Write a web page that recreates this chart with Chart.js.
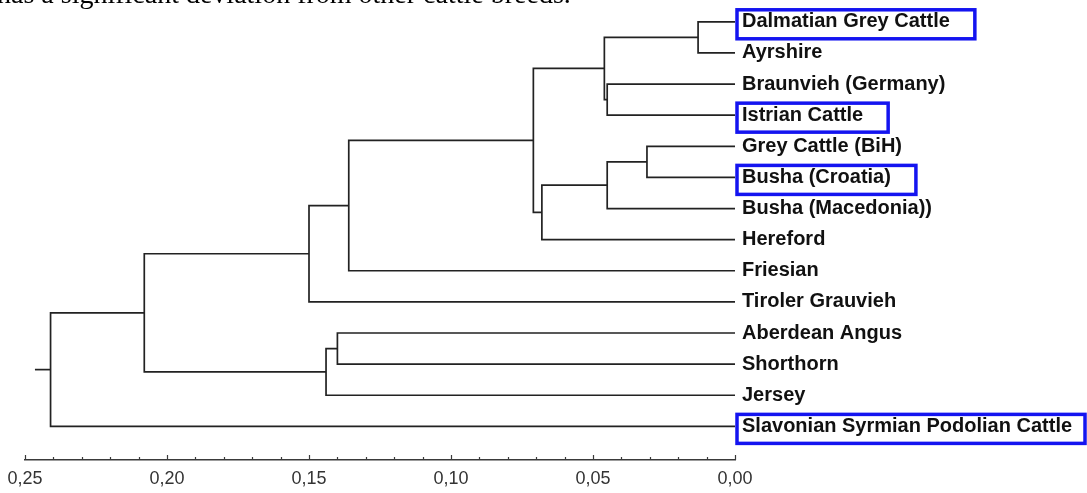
<!DOCTYPE html>
<html lang="en">
<head>
<meta charset="UTF-8">
<title>Cattle breeds dendrogram</title>
<script src="https://cdn.jsdelivr.net/npm/chart.js"></script>
<style>
    html, body { margin: 0; padding: 0; background: #fff; overflow: hidden; }
    .wrap { position: relative; width: 1087px; height: 493px; }
    .caption {
        position: absolute; left: -3px; top: -20px;
        font: 28px/28px "Liberation Serif", "Times New Roman", serif;
        color: #000; white-space: nowrap;
    }
    canvas { display: block; }
</style>
</head>
<body>
<div class="wrap">
    <canvas id="tree" width="1087" height="493"></canvas>
    <div class="caption">has a significant deviation from other cattle breeds.</div>
</div>

<script>
// leaves, top to bottom
const breeds = [
    'Dalmatian Grey Cattle', 'Ayrshire', 'Braunvieh (Germany)', 'Istrian Cattle',
    'Grey Cattle (BiH)', 'Busha (Croatia)', 'Busha (Macedonia))', 'Hereford',
    'Friesian', 'Tiroler Grauvieh', 'Aberdean Angus', 'Shorthorn', 'Jersey',
    'Slavonian Syrmian Podolian Cattle'
];
const boxed = ['Dalmatian Grey Cattle', 'Istrian Cattle', 'Busha (Croatia)', 'Slavonian Syrmian Podolian Cattle'];

// joins in order; ids 0..13 are leaves, 14.. are the clusters made by each join
const mergeA = [0, 2, 14, 4, 17, 18, 16, 20, 21, 10, 23, 22, 25];
const mergeB = [1, 3, 15, 5, 6, 7, 19, 8, 9, 11, 12, 24, 13];
const mergeHeight = [0.013, 0.045, 0.046, 0.031, 0.045, 0.068, 0.071, 0.136, 0.150, 0.140, 0.144, 0.208, 0.241];

const xTicks = [0.25, 0.20, 0.15, 0.10, 0.05, 0.00];

// node positions: y = leaf slot (clusters sit between children), x = distance
let nodeY = breeds.map((b, i) => i);
let nodeH = breeds.map(() => 0);
mergeA.forEach((a, k) => {
    let b = mergeB[k];
    nodeY.push((nodeY[a] + nodeY[b]) / 2);
    nodeH.push(mergeHeight[k]);
});

let lineStyle = { showLine: true, borderColor: '#222', borderWidth: 1.7, pointRadius: 0, tension: 0 };
let datasets = mergeA.map((a, k) => {
    let b = mergeB[k], h = mergeHeight[k];
    return Object.assign({
        data: [
            { x: nodeH[a], y: nodeY[a] }, { x: h, y: nodeY[a] },
            { x: h, y: nodeY[b] }, { x: nodeH[b], y: nodeY[b] }
        ]
    }, lineStyle);
});
// little stub on the root
let root = nodeY.length - 1;
datasets.push(Object.assign({
    data: [{ x: nodeH[root], y: nodeY[root] }, { x: nodeH[root] + 0.0055, y: nodeY[root] }]
}, lineStyle));

const labelFont = { family: '"Liberation Sans", Arial, sans-serif', size: 20, weight: 'bold' };

// small upward ticks on the distance axis + blue boxes round some names
const extras = {
    id: 'extras',
    afterDraw(chart) {
        let ctx = chart.ctx, xs = chart.scales.x, ys = chart.scales.y;
        let base = chart.chartArea.bottom;
        ctx.save();
        ctx.strokeStyle = '#3a3a3a';
        ctx.lineWidth = 1.2;
        for (let i = 0; i <= 25; i++) {
            let px = Math.round(xs.getPixelForValue(i / 100)) + 0.5;
            let len = i % 5 === 0 ? 5 : 3;
            ctx.beginPath();
            ctx.moveTo(px, base);
            ctx.lineTo(px, base - len);
            ctx.stroke();
        }

        ctx.font = 'bold 20px "Liberation Sans", Arial, sans-serif';
        ctx.strokeStyle = '#1414f0';
        ctx.lineWidth = 3.5;
        breeds.forEach((name, i) => {
            if (!boxed.includes(name)) return;
            let tx = ys.left + ys.options.ticks.padding;
            let w = ctx.measureText(name).width;
            let cy = ys.getPixelForValue(i);
            let left = tx - 5;
            let right = Math.min(tx + w + 25, chart.width - 2);
            ctx.strokeRect(left, cy - 12, right - left, 29);
        });
        ctx.restore();
    }
};

new Chart(document.getElementById('tree'), {
    type: 'scatter',
    data: { datasets: datasets },
    options: {
        responsive: false,
        animation: false,
        layout: { padding: { left: 25, right: 0, top: 0, bottom: 0 } },
        plugins: { legend: { display: false }, tooltip: { enabled: false } },
        scales: {
            x: {
                type: 'linear', reverse: true, min: 0, max: 0.25, position: 'bottom',
                afterBuildTicks: s => { s.ticks = xTicks.map(v => ({ value: v })); },
                afterFit: s => { s.height = 33; s.paddingLeft = 0; s.paddingRight = 0; },
                grid: { display: false, drawTicks: false },
                border: { display: true, color: '#3a3a3a', width: 1.5 },
                ticks: {
                    color: '#333', padding: 8, maxRotation: 0, autoSkip: false,
                    font: { family: '"Liberation Sans", Arial, sans-serif', size: 18 },
                    callback: v => v.toFixed(2).replace('.', ',')
                }
            },
            y: {
                type: 'linear', reverse: true, min: -0.7, max: 14.08, position: 'right',
                afterBuildTicks: s => { s.ticks = breeds.map((b, i) => ({ value: i })); },
                afterFit: s => { s.width = 352; s.paddingTop = 0; s.paddingBottom = 0; },
                grid: { display: false, drawTicks: false },
                border: { display: false },
                ticks: {
                    color: '#111', padding: 7, crossAlign: 'near', autoSkip: false,
                    font: labelFont,
                    callback: v => breeds[v]
                }
            }
        }
    },
    plugins: [extras]
});
</script>
</body>
</html>
